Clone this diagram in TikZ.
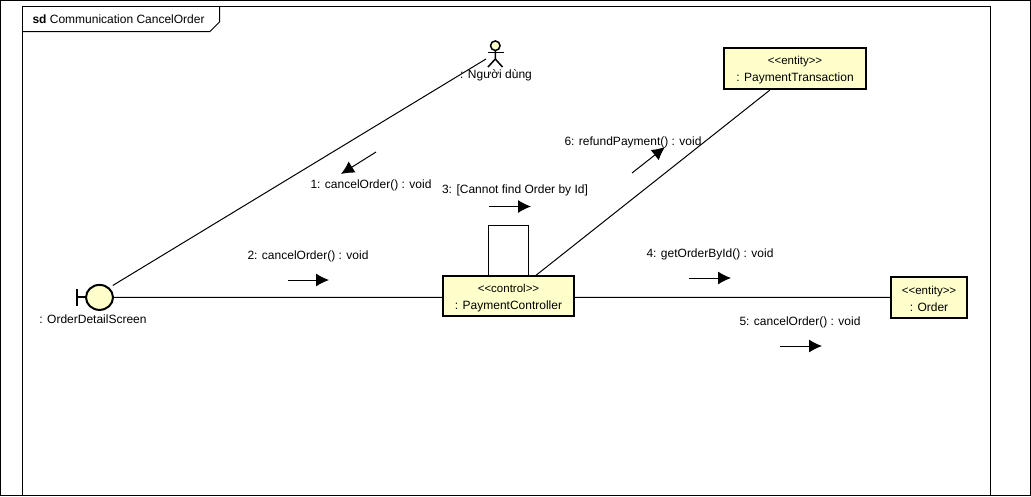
\documentclass[tikz,border=0pt]{standalone}
\usepackage{fontspec}
\setmainfont{Liberation Sans}
\usetikzlibrary{arrows.meta,shapes.geometric}
\definecolor{lifeyellow}{HTML}{FFFFCC}
\newcommand{\stereotype}[1]{{\rule{0pt}{12pt}\fontsize{11.5}{17}\selectfont <{}<#1>{}>}}

\begin{document}
\begin{tikzpicture}[x=1pt, y=-1pt, line width=1pt,
        every node/.append style={font=\fontsize{12}{17}\selectfont},
        every circle node/.append style={inner sep=0pt}]
      \tikzstyle{word} = [inner sep=0pt,color=black]
      \tikzstyle{object} = [draw,line width=2pt,fill=lifeyellow,align=center,inner sep=0pt]
      \tikzstyle{message} = [-{Latex[length=13pt,width=13pt]}]
      \useasboundingbox (0,0) rectangle (1031,496);
      % frame
      \draw (0.5,0.5) rectangle (1030.5,495.5);
      \draw (22.5,495.5) -- (22.5,6.5) -- (990.5,6.5) -- (990.5,495.5);
      \draw (22,31.5) -- (210,31.5) -- (219.5,22) -- (219.5,6.5);
      \node (title) [word,anchor=west] at (32,19) {\textbf{sd} Communication CancelOrder};
      % objects
      \node (controller) [object,minimum width=131pt,minimum height=40pt] at (508.5,296.3)
        {\stereotype{control}\\: PaymentController};
      \node (transaction) [object,minimum width=142pt,minimum height=41pt] at (795,68.5)
        {\stereotype{entity}\\: PaymentTransaction};
      \node (order) [object,minimum width=76pt,minimum height=41pt] at (929,297.4)
        {\stereotype{entity}\\: Order};
      \node (screen) [ellipse,draw,line width=2pt,fill=lifeyellow,inner sep=0pt,
        minimum width=27pt,minimum height=25pt] at (99.5,297.4) {};
      \node (screenLabel) [word] at (93,319) {: OrderDetailScreen};
      \coordinate (stemTop) at (77,289);
      \coordinate (stemBottom) at (77,305.5);
      \coordinate (stemMiddle) at (77,297.4);
      \draw[line width=2pt] (stemTop) -- (stemBottom);
      \draw[line width=2pt] (stemMiddle) -- (screen);
      % actor
      \node (head) [circle,draw,line width=1.5pt,fill=lifeyellow,minimum size=9.5pt] at (495.3,45.7) {};
      \coordinate (hip) at (495.3,59);
      \coordinate (armLeft) at (487.5,52.3);
      \coordinate (armRight) at (503.5,52.3);
      \coordinate (footLeft) at (488,67);
      \coordinate (footRight) at (502.5,67);
      \draw[line width=1.5pt] (head) -- (hip) -- (footLeft);
      \draw[line width=1.5pt] (hip) -- (footRight);
      \draw[line width=1.5pt] (armLeft) -- (armRight);
      \node (user) [word] at (496,75) {: Người dùng};
      % links
      \coordinate (userEnd) at (486,59);
      \draw[shorten >=4pt] (userEnd) -- (screen.45);
      \draw (screen) -- ([yshift=-1.1pt]controller.west);
      \draw ([yshift=-1.1pt]controller.east) -- (order);
      \draw ([xshift=27.5pt]controller.north) -- ([xshift=-25pt]transaction.south);
      \draw ([xshift=-20pt]controller.north) -- ++(0,-49.5) -| ([xshift=20pt]controller.north);
      % messages
      \coordinate (m1a) at (376,152);
      \coordinate (m1b) at (341,174);
      \coordinate (m2a) at (288,280);
      \coordinate (m2b) at (329,280);
      \coordinate (m3a) at (489,206.5);
      \coordinate (m3b) at (531,206.5);
      \coordinate (m4a) at (689,278);
      \coordinate (m4b) at (731,278);
      \coordinate (m5a) at (780,346);
      \coordinate (m5b) at (822,346);
      \coordinate (m6a) at (632,173);
      \coordinate (m6b) at (665,147);
      \foreach \a/\b in {m1a/m1b,m2a/m2b,m3a/m3b,m4a/m4b,m5a/m5b,m6a/m6b}
        \draw[message] (\a) -- (\b);
      \node (cancelA) [word] at (371,185) {1: cancelOrder() : void};
      \node (cancelB) [word] at (308,256) {2: cancelOrder() : void};
      \node (cannot) [word] at (515,190) {3: [Cannot find Order by Id]};
      \node (getOrder) [word] at (710,254) {4: getOrderById() : void};
      \node (cancelC) [word] at (800,322) {5: cancelOrder() : void};
      \node (refund) [word] at (633,142) {6: refundPayment() : void};
    \end{tikzpicture}
\end{document}
